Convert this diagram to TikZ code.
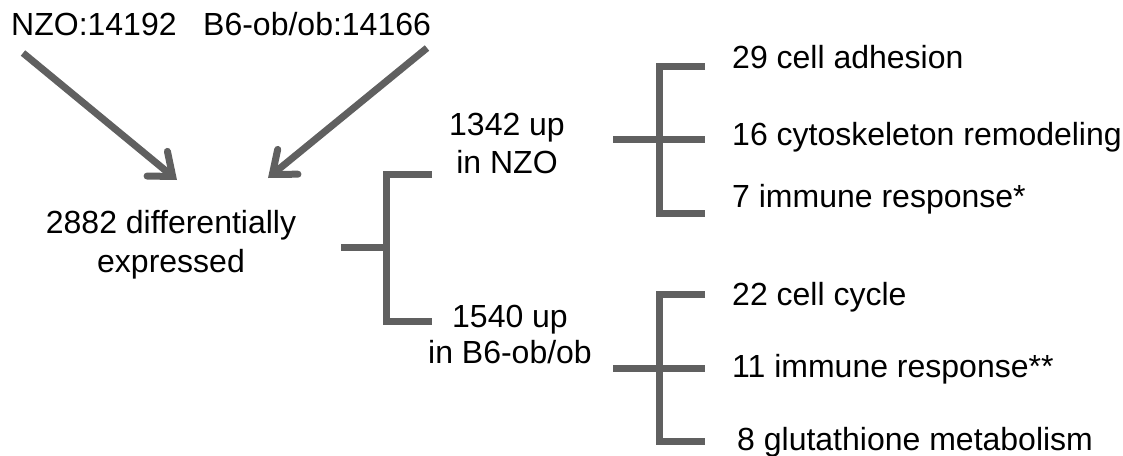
\documentclass[tikz,border=0pt]{standalone}
\usepackage{fontspec}
\setmainfont{Liberation Sans}
\usetikzlibrary{arrows.meta}
\definecolor{linegray}{RGB}{96,96,96}
\tikzset{
  lbl/.style={inner sep=0pt, font=\fontsize{32}{38}\selectfont, text=black},
  conn/.style={draw=linegray, line width=7pt, line join=miter},
  arr/.style={conn, -{Straight Barb[length=20pt, width=32pt, line cap=round]}}
}
\begin{document}
\begin{tikzpicture}[x=1pt, y=-1pt]
\useasboundingbox (0,0) rectangle (1123,455);
% top labels
\node[lbl, anchor=base west] (nzo) at (11,35) {NZO:14192};
\node[lbl, anchor=base west] (ob) at (203,35) {B6-ob/ob:14166};
\coordinate (nzoS) at (23,53);
\coordinate (obS) at (427,48);
\coordinate (nzoT) at (177,180);
\coordinate (obT) at (268,178);
\draw[arr] (nzoS) -- (nzoT);
\draw[arr] (obS) -- (obT);
% central
\node[lbl, anchor=base, align=center, font=\fontsize{32}{39}\selectfont] (diff) at (171,272) {2882 differentially\\expressed};
\node[lbl, anchor=base, align=center] (up1) at (507,173) {1342 up\\in NZO};
\node[lbl, anchor=base, align=center, font=\fontsize{32}{36}\selectfont] (up2) at (510,363) {1540 up\\in B6-ob/ob};
% bracket 1
\coordinate (b1s) at (341,247);
\coordinate (b1m) at (386,247);
\coordinate (b1t) at (432,174);
\coordinate (b1b) at (432,321);
\draw[conn] (b1s) -- (b1m);
\draw[conn] (b1t) -| (b1m) |- (b1b);
% right labels
\node[lbl, anchor=base west] (r1) at (732,68) {29 cell adhesion};
\node[lbl, anchor=base west] (r2) at (732,145) {16 cytoskeleton remodeling};
\node[lbl, anchor=base west] (r3) at (732,207) {7 immune response*};
\node[lbl, anchor=base west] (r4) at (732,305) {22 cell cycle};
\node[lbl, anchor=base west] (r5) at (732,377) {11 immune response**};
\node[lbl, anchor=base west] (r6) at (737,450) {8 glutathione metabolism};
% bracket 2
\coordinate (b2s) at (613,139);
\coordinate (b2m) at (705,139);
\coordinate (b2v) at (659,139);
\coordinate (b2t) at (705,66);
\coordinate (b2b) at (705,213);
\draw[conn] (b2s) -- (b2m);
\draw[conn] (b2t) -| (b2v) |- (b2b);
% bracket 3
\coordinate (b3s) at (613,368);
\coordinate (b3m) at (705,368);
\coordinate (b3v) at (659,368);
\coordinate (b3t) at (705,294);
\coordinate (b3b) at (705,441);
\draw[conn] (b3s) -- (b3m);
\draw[conn] (b3t) -| (b3v) |- (b3b);
\end{tikzpicture}
\end{document}
